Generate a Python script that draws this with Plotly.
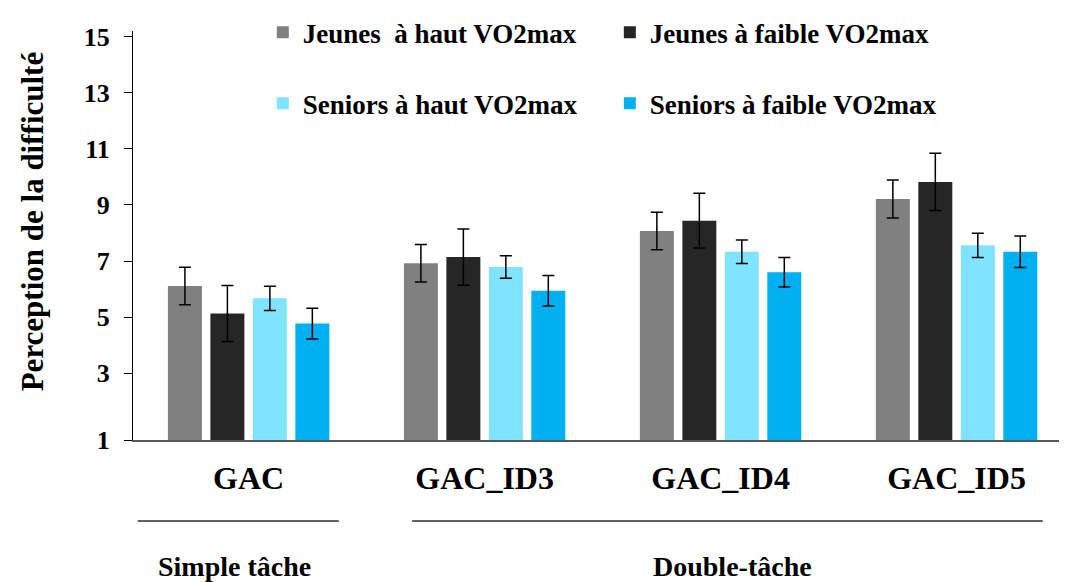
import plotly.graph_objects as go

categories = ["GAC", "GAC_ID3", "GAC_ID4", "GAC_ID5"]

series_names = [
    "Jeunes  à haut VO2max",
    "Jeunes à faible VO2max",
    "Seniors à haut VO2max",
    "Seniors à faible VO2max",
]
jeunes_haut = [6.11, 6.92, 8.07, 9.21]
jeunes_haut_err = [0.67, 0.67, 0.67, 0.68]
jeunes_faible = [5.13, 7.14, 8.44, 9.82]
jeunes_faible_err = [1.0, 1.0, 0.98, 1.02]
seniors_haut = [5.67, 6.79, 7.33, 7.56]
seniors_haut_err = [0.43, 0.40, 0.42, 0.43]
seniors_faible = [4.77, 5.94, 6.60, 7.33]
seniors_faible_err = [0.55, 0.54, 0.53, 0.56]

y_tick_vals = [0.62, 3, 5, 7, 9, 11, 13, 15]
y_tick_text = ["1", "3", "5", "7", "9", "11", "13", "15"]

y_title = "Perception de la difficulté"
group_labels = ["Simple tâche", "Double-tâche"]

colors = ["#808080", "#262626", "#80E3FF", "#00B0F0"]
values = [jeunes_haut, jeunes_faible, seniors_haut, seniors_faible]
errors = [jeunes_haut_err, jeunes_faible_err, seniors_haut_err, seniors_faible_err]
legend_ids = ["legend", "legend", "legend2", "legend2"]

FONT = "Liberation Serif"

fig = go.Figure()
for name, vals, errs, col, lg in zip(series_names, values, errors, colors, legend_ids):
    fig.add_trace(go.Bar(
        x=categories, y=vals, name="<b>%s</b>" % name,
        marker=dict(color=col, line=dict(width=0)),
        error_y=dict(type="data", array=errs, visible=True,
                     color="black", thickness=1.5, width=6),
        legend=lg,
    ))

legend_common = dict(
    orientation="h", xanchor="left", yanchor="middle",
    font=dict(family=FONT, size=27, color="black"),
    bgcolor="rgba(0,0,0,0)", itemwidth=30, entrywidth=302,
    traceorder="normal",
)

# page body adds an 8px offset, so the figure is 8px smaller and margins shifted
fig.update_layout(
    width=1059, height=574,
    margin=dict(l=125, r=0, t=15, b=142),
    paper_bgcolor="white", plot_bgcolor="white",
    barmode="group", bargap=0.28, bargroupgap=0.2,
    font=dict(family=FONT, color="black"),
    legend=dict(x=0.139, y=0.996, **legend_common),
    legend2=dict(x=0.139, y=0.822, **legend_common),
    xaxis=dict(
        range=[-0.49, 3.468], automargin=False,
        tickvals=categories, ticktext=["<b>%s</b>" % c for c in categories],
        showline=True, linecolor="#595959", linewidth=2,
        ticks="outside", ticklen=9, tickcolor="rgba(0,0,0,0)",
        tickfont=dict(family=FONT, size=32, color="black"),
        showgrid=False, zeroline=False,
    ),
    yaxis=dict(
        range=[0.62, 15.2], automargin=False,
        tickvals=y_tick_vals, ticktext=["<b>%s</b>" % t for t in y_tick_text],
        showline=True, linecolor="black", linewidth=1,
        ticks="outside", ticklen=8, tickcolor="black", tickwidth=1,
        ticklabelstandoff=9,
        tickfont=dict(family=FONT, size=26, color="black"),
        showgrid=False, zeroline=False,
    ),
)

fig.add_annotation(x=-0.108, y=0.535, xref="paper", yref="paper",
                   text="<b>%s</b>" % y_title, textangle=-90, showarrow=False,
                   font=dict(family=FONT, size=31, color="black"),
                   xanchor="center", yanchor="middle")

# group separator lines and labels under the axis
fig.add_shape(type="line", xref="x", yref="paper", x0=-0.47, x1=0.382,
              y0=-0.198, y1=-0.198, line=dict(color="#606060", width=2))
fig.add_shape(type="line", xref="x", yref="paper", x0=0.693, x1=3.365,
              y0=-0.198, y1=-0.198, line=dict(color="#606060", width=2))
fig.add_annotation(x=-0.062, y=-0.309, xref="x", yref="paper",
                   text="<b>%s</b>" % group_labels[0], showarrow=False,
                   font=dict(family=FONT, size=28, color="black"),
                   xanchor="center", yanchor="middle")
fig.add_annotation(x=2.052, y=-0.309, xref="x", yref="paper",
                   text="<b>%s</b>" % group_labels[1], showarrow=False,
                   font=dict(family=FONT, size=28, color="black"),
                   xanchor="center", yanchor="middle")

fig.write_html("out.html")
